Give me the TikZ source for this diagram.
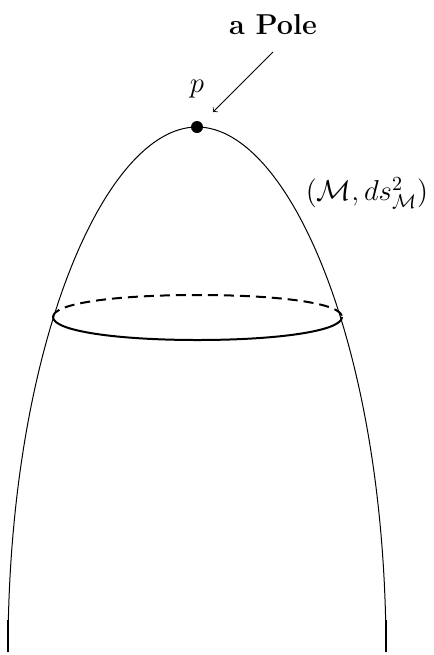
\documentclass[tikz,border=0pt]{standalone}
\usepackage{amsmath}
\usepackage{amssymb}
\tikzset{
  hull/.style={line width=0.5pt},
  ring/.style={line width=1pt},
  ringback/.style={line width=1pt,dash pattern=on 5pt off 3pt},
  stub/.style={line width=0.9pt},
  labeltext/.style={font=\Large,inner sep=0pt},
}
\begin{document}
\begin{tikzpicture}[x=0.5pt,y=-0.5pt]
\useasboundingbox (0,0) rectangle (434,655);
\coordinate (apex) at (197,127);
\coordinate (bl) at (8,652);
\coordinate (br) at (386,652);
\coordinate (blt) at (8,620);
\coordinate (brt) at (386,620);
\coordinate (ringL) at (53,317);
\coordinate (ringR) at (342,317);
\draw[hull] (bl) .. controls (8,350) and (104,127) .. (apex) .. controls (290,127) and (386,350) .. (br);
\draw[stub] (bl) -- (blt);
\draw[stub] (br) -- (brt);
\draw[ring] (ringL) .. controls (53,331) and (117,340) .. (197.5,340) .. controls (278,340) and (342,331) .. (ringR);
\draw[ringback] (ringL) .. controls (53,303) and (117,295) .. (197.5,295) .. controls (278,295) and (342,303) .. (ringR);
\node[circle,fill=black,inner sep=0pt,minimum size=6pt] (pole) at (apex) {};
\node[labeltext] (plabel) at (197,89) {$p$};
\node[labeltext] (title) at (273,25) {\textbf{a Pole}};
\node[labeltext] (mlabel) at (367,193) {$(\mathcal{M},ds^2_{\mathcal{M}})$};
\coordinate (arrstart) at (273,52);
\coordinate (arrend) at (213,112);
\draw[->,line width=0.4pt] (arrstart) -- (arrend);
\end{tikzpicture}
\end{document}
